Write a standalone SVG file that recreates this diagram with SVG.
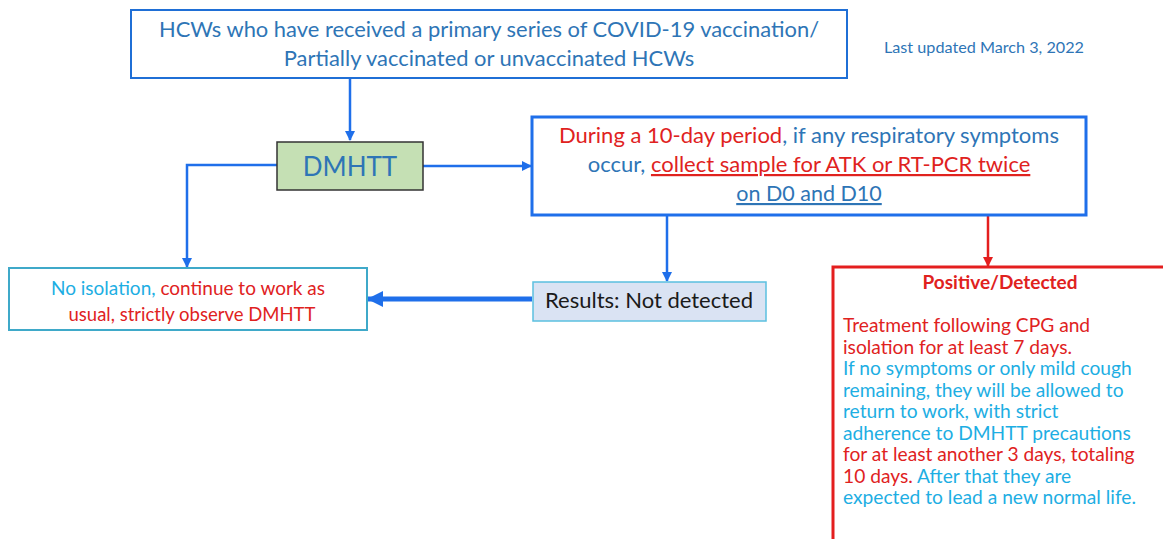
<svg xmlns="http://www.w3.org/2000/svg" width="1163" height="539" viewBox="0 0 1163 539">
<style>
text{font-family:Lato,"Open Sans","Liberation Sans",sans-serif}
.db{fill:#2E75B6}
.rd{fill:#E0221E}
.lb{fill:#1DAEE3}
.bk{fill:#1a1a1a}
.c{stroke:#1F6FEA;stroke-width:2.5;fill:none}
.body{font-size:19.2px}
</style>
<defs>
<marker id="ab" markerWidth="10" markerHeight="10" refX="9" refY="5" orient="auto" markerUnits="userSpaceOnUse"><path d="M0,0 L10,5 L0,10 z" fill="#1F6FEA"/></marker>
<marker id="abL" markerWidth="16" markerHeight="16" refX="15" refY="8" orient="auto" markerUnits="userSpaceOnUse"><path d="M0,0 L16,8 L0,16 z" fill="#1F6FEA"/></marker>
<marker id="ar" markerWidth="10" markerHeight="10" refX="9" refY="5" orient="auto" markerUnits="userSpaceOnUse"><path d="M0,0 L10,5 L0,10 z" fill="#E41E1E"/></marker>
</defs>
<rect width="1163" height="539" fill="#fff"/>
<g id="connectors">
<path class="c" d="M350,79 V140" marker-end="url(#ab)"/>
<path class="c" d="M277,165 H187 V267" marker-end="url(#ab)"/>
<path class="c" d="M423,166 H531" marker-end="url(#ab)"/>
<path class="c" d="M667,216 V281" marker-end="url(#ab)"/>
<path d="M988,216 V266" stroke="#E41E1E" stroke-width="2.5" fill="none" marker-end="url(#ar)"/>
<path d="M532,299 H368" stroke="#1F6FEA" stroke-width="5" fill="none" marker-end="url(#abL)"/>
</g>
<g id="top">
<rect x="131" y="10" width="716" height="68" fill="#fff" stroke="#1F6FD6" stroke-width="2"/>
<text x="489" y="37" font-size="21.9" text-anchor="middle" class="db">HCWs who have received a primary series of COVID-19 vaccination/</text>
<text x="489" y="66" font-size="21.9" text-anchor="middle" class="db">Partially vaccinated or unvaccinated HCWs</text>
</g>
<g id="updated">
<text x="884" y="53" font-size="16.2" class="db">Last updated March 3, 2022</text>
</g>
<g id="dmhtt">
<rect x="277" y="142" width="146" height="48" fill="#C5E0B4" stroke="#333" stroke-width="1.5"/>
<text x="350" y="176" font-size="26" text-anchor="middle" class="db">DMHTT</text>
</g>
<g id="period">
<rect x="532" y="117" width="554" height="98" fill="#fff" stroke="#1F6FEA" stroke-width="3"/>
<text x="809" y="143" font-size="22" text-anchor="middle"><tspan class="rd">During a 10-day period</tspan><tspan class="db">, if any respiratory symptoms</tspan></text>
<text x="809" y="172" font-size="22" text-anchor="middle"><tspan class="db">occur, </tspan><tspan class="rd" text-decoration="underline">collect sample for ATK or RT-PCR twice</tspan></text>
<text x="809" y="201" font-size="21.5" text-anchor="middle" class="db" text-decoration="underline">on D0 and D10</text>
</g>
<g id="results">
<rect x="533" y="282" width="233" height="39" fill="#DAE3F3" stroke="#5BC0E0" stroke-width="1.5"/>
<text x="649" y="308" font-size="22" text-anchor="middle" class="bk">Results: Not detected</text>
</g>
<g id="noiso">
<rect x="9" y="268" width="358" height="62" fill="#fff" stroke="#3FA9C9" stroke-width="2"/>
<text x="188" y="295" font-size="19" text-anchor="middle"><tspan class="lb">No isolation,</tspan><tspan class="rd"> continue to work as</tspan></text>
<text x="192" y="321" font-size="18.5" text-anchor="middle" class="rd">usual, strictly observe DMHTT</text>
</g>
<g id="positive">
<rect x="833" y="267" width="340" height="290" fill="#fff" stroke="#E41E1E" stroke-width="3"/>
<text x="1000" y="289" font-size="19" font-weight="bold" text-anchor="middle" class="rd">Positive/Detected</text>
<text x="843" y="332" class="body rd">Treatment following CPG and</text>
<text x="843" y="353.5" class="body rd">isolation for at least 7 days.</text>
<text x="843" y="375" class="body lb">If no symptoms or only mild cough</text>
<text x="843" y="396.5" class="body lb">remaining, they will be allowed to</text>
<text x="843" y="418" class="body lb">return to work, with strict</text>
<text x="843" y="439.5" class="body lb">adherence to DMHTT precautions</text>
<text x="843" y="461" class="body rd">for at least another 3 days, totaling</text>
<text x="843" y="482.5" class="body"><tspan class="rd">10 days.</tspan><tspan class="lb"> After that they are</tspan></text>
<text x="843" y="504" class="body lb">expected to lead a new normal life.</text>
</g>
</svg>
